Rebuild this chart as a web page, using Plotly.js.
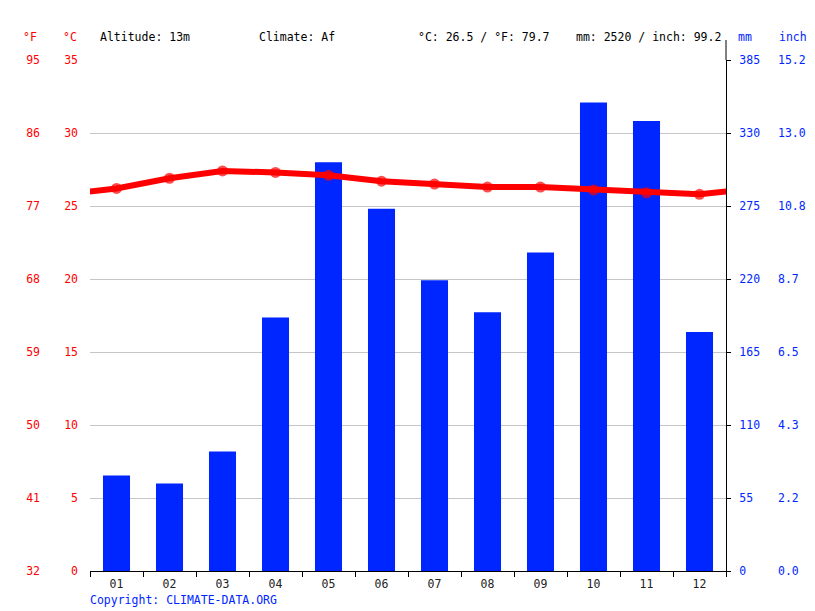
<!DOCTYPE html>
<html>
<head>
<meta charset="utf-8">
<script src="https://cdn.plot.ly/plotly-3.0.1.min.js"></script>
<style>html,body{margin:0;padding:0;background:#fff;}#chart{width:815px;height:611px;}</style>
</head>
<body>
<div id="chart"></div>
<script>
// ---- data ----
var months = ["01","02","03","04","05","06","07","08","09","10","11","12"];
var tempC = [26.2, 26.9, 27.4, 27.3, 27.1, 26.7, 26.5, 26.3, 26.3, 26.1, 25.9, 25.8];
var precipMm = [72, 66, 90, 191, 308, 273, 219, 195, 240, 353, 339, 180];
var celsiusTicks = [0, 5, 10, 15, 20, 25, 30, 35];
var fahrenheitLabels = ["32","41","50","59","68","77","86","95"];
var mmTicks = [0, 55, 110, 165, 220, 275, 330, 385];
var inchLabels = ["0.0","2.2","4.3","6.5","8.7","10.8","13.0","15.2"];
var altitudeText = "Altitude: 13m";
var climateText = "Climate: Af";
var tempSummary = "°C: 26.5 / °F: 79.7";
var precipSummary = "mm: 2520 / inch: 99.2";
var copyrightText = "Copyright: CLIMATE-DATA.ORG";

// ---- styling ----
var W = 815, H = 611;
var FONT = "DejaVu Sans Mono";
var FS = 11.5;
var RED = "#ff0000";
var BLUE = "#0026ff";
var plotL = 90, plotR = 726, plotT = 60, plotB = 571;
var xd = [plotL / W, plotR / W];
var yd = [1 - plotB / H, 1 - plotT / H];
function px(x) { return x / W; }
function py(y) { return 1 - y / H; }

// wrap temperature line across year boundary (Dec before Jan, Jan after Dec)
var lineX = [-1], lineY = [tempC[tempC.length - 1]], mSize = [0];
for (var i = 0; i < tempC.length; i++) { lineX.push(i); lineY.push(tempC[i]); mSize.push(11); }
lineX.push(tempC.length); lineY.push(tempC[0]); mSize.push(0);

var bars = {
  type: "bar", x: months, y: precipMm, xaxis: "x", yaxis: "y",
  marker: { color: BLUE, line: { width: 0 } }, width: 0.51,
  hoverinfo: "skip", showlegend: false
};
var line = {
  type: "scatter", mode: "lines+markers", x: lineX, y: lineY,
  xaxis: "x2", yaxis: "y2",
  line: { color: RED, width: 6 },
  marker: { color: RED, size: mSize, line: { width: 0 } },
  hoverinfo: "skip", showlegend: false
};
// carriers (no visible marks) so the °F and inch label axes get drawn
var fCarrier = {
  type: "scatter", mode: "none", x: months, y: tempC,
  xaxis: "x", yaxis: "y3", hoverinfo: "skip", showlegend: false
};
var inchCarrier = {
  type: "scatter", mode: "none", x: months, y: precipMm,
  xaxis: "x", yaxis: "y4", hoverinfo: "skip", showlegend: false
};

function ann(text, x, color) {
  return { text: text, x: px(x), y: py(37), xref: "paper", yref: "paper",
    xanchor: "left", yanchor: "middle", showarrow: false, borderpad: 0,
    font: { family: FONT, size: FS, color: color } };
}

var layout = {
  width: W, height: H,
  margin: { l: 0, r: 0, t: 0, b: 0, pad: 0 },
  paper_bgcolor: "#fff", plot_bgcolor: "#fff",
  font: { family: FONT, size: FS, color: "#000" },
  showlegend: false,
  bargap: 0.49,
  xaxis: {
    type: "category", domain: xd, anchor: "y",
    categoryorder: "array", categoryarray: months,
    range: [-0.5, 11.5], fixedrange: true,
    tickson: "boundaries", ticks: "outside", ticklen: 5, tickcolor: "#000", tickwidth: 1,
    showline: true, linecolor: "#000", linewidth: 1,
    showgrid: false, zeroline: false,
    tickfont: { family: FONT, size: FS, color: "#222" }, ticklabelstandoff: 2,
    automargin: false
  },
  xaxis2: {
    domain: xd, overlaying: "x", anchor: "y2", range: [-0.5, 11.5],
    visible: false, fixedrange: true
  },
  // main y: precipitation (mm), right side
  yaxis: {
    domain: yd, anchor: "x", side: "right", range: [0, 385],
    tickvals: mmTicks, ticktext: mmTicks.map(String),
    ticks: "outside", ticklen: 4, tickcolor: "#000",
    showline: true, linecolor: "#000", linewidth: 1,
    showgrid: true, gridcolor: "#c6c6c6", gridwidth: 1, zeroline: false,
    tickfont: { family: FONT, size: FS, color: BLUE }, ticklabelstandoff: 6,
    automargin: false, fixedrange: true
  },
  // temperature °C, left side
  yaxis2: {
    overlaying: "y", anchor: "x", side: "left", range: [0, 35],
    tickvals: celsiusTicks, ticktext: celsiusTicks.map(String),
    ticks: "", showline: false, showgrid: false, zeroline: false,
    tickfont: { family: FONT, size: FS, color: RED }, ticklabelstandoff: 11,
    automargin: false, fixedrange: true
  },
  // °F labels
  yaxis3: {
    overlaying: "y", anchor: "free", position: px(40), side: "left", range: [0, 35],
    tickvals: celsiusTicks, ticktext: fahrenheitLabels,
    ticks: "", showline: false, showgrid: false, zeroline: false,
    tickfont: { family: FONT, size: FS, color: RED }, ticklabelstandoff: 0,
    automargin: false, fixedrange: true
  },
  // inch labels
  yaxis4: {
    overlaying: "y", anchor: "free", position: px(777), side: "right", range: [0, 385],
    tickvals: mmTicks, ticktext: inchLabels,
    ticks: "", showline: false, showgrid: false, zeroline: false,
    tickfont: { family: FONT, size: FS, color: BLUE }, ticklabelstandoff: 0,
    automargin: false, fixedrange: true
  },
  shapes: [
    { type: "line", xref: "paper", yref: "paper", x0: px(plotR), x1: px(plotR),
      y0: yd[1], y1: py(40), line: { color: "#000", width: 1 } }
  ],
  annotations: [
    ann("°F", 22, RED),
    ann("°C", 62, RED),
    ann(altitudeText, 99, "#000"),
    ann(climateText, 258, "#000"),
    ann(tempSummary, 417, "#000"),
    ann(precipSummary, 575, "#000"),
    ann("mm", 737, BLUE),
    ann("inch", 778, BLUE),
    { text: copyrightText, x: px(89), y: py(600), xref: "paper", yref: "paper",
      xanchor: "left", yanchor: "middle", showarrow: false, borderpad: 0,
      font: { family: FONT, size: FS, color: BLUE } }
  ]
};

Plotly.newPlot("chart", [bars, fCarrier, inchCarrier, line], layout, { displayModeBar: false, staticPlot: true });
</script>
</body>
</html>
